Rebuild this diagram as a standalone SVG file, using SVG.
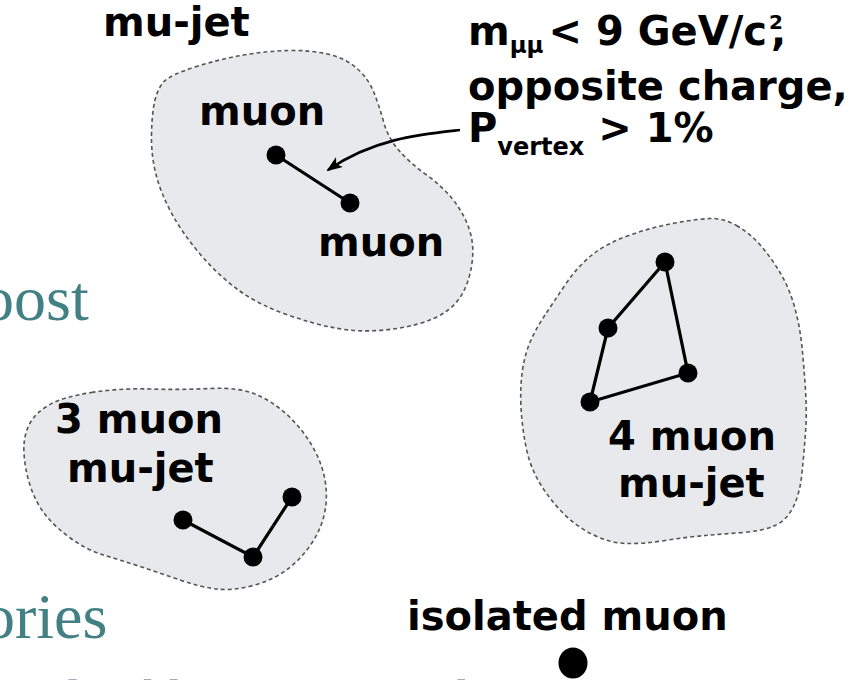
<svg xmlns="http://www.w3.org/2000/svg" width="862" height="680" viewBox="0 0 862 680">
  <defs>
    <style>
      .lbl { font-family: "DejaVu Sans", Verdana, sans-serif; font-weight: bold; font-size: 40px; fill: #000; }
      .sub { font-size: 23px; }
      .sup { font-size: 20px; }
      .sub2 { font-size: 24px; }
      .blob { fill: #e8e9ec; stroke: #555; stroke-width: 1.6; stroke-dasharray: 4 3; }
      .link { stroke: #000; stroke-width: 3.2; fill: none; stroke-linecap: round; }
      .mu { fill: #000; }
      .bg { font-family: "Liberation Serif", Georgia, serif; font-size: 64px; fill: #428084; }
      .bg2 { font-family: "Liberation Serif", Georgia, serif; font-size: 50px; fill: #52528a; }
    </style>
    <marker id="head" viewBox="0 0 16 12" refX="14" refY="6" markerWidth="16" markerHeight="12" markerUnits="userSpaceOnUse" orient="auto">
      <path d="M0,0 L16,6 L0,12 L4,6 Z" fill="#000"/>
    </marker>
  </defs>

  <rect width="862" height="680" fill="#fff"/>

  <!-- slide text behind the figure -->
  <g id="slide-text">
    <text class="bg" x="-18" y="320">oost</text>
    <text class="bg" x="-17" y="638">ories</text>
    <text class="bg2" x="55" y="715">durable in a narrow basin</text>
  </g>

  <!-- two-muon jet -->
  <g id="jet2">
    <path class="blob" d="M195,67 Q220,59 243.5,55 Q267,51 288.5,50.5 Q310,50 327.5,54 Q345,58 356.5,68 Q368,78 373.5,91.5 Q379,105 383.5,121.5 Q388,138 399,150.5 Q410,163 426,174.5 Q442,186 452.5,199 Q463,212 468.5,227 Q474,242 472.5,258.5 Q471,275 465,288.5 Q459,302 447.5,310.5 Q436,319 418,324 Q400,329 378.5,330.5 Q357,332 335,328 Q313,324 285,314 Q257,304 237,289 Q217,274 200,254 Q183,234 172,214 Q161,194 156,174.5 Q151,155 151.5,133.5 Q152,112 155,100 Q158,88 164,81.5 Q170,75 195,67 Z"/>
    <text class="lbl" x="103" y="36">mu-jet</text>
    <text class="lbl" x="199" y="125">muon</text>
    <text class="lbl" x="318" y="256">muon</text>
  </g>

  <!-- three-muon jet -->
  <g id="jet3">
    <path class="blob" d="M91.5,392.5 Q120,388 150,389 Q180,390 210,388.5 Q240,387 257.5,395 Q275,403 289,416.5 Q303,430 312.5,446.5 Q322,463 325,480 Q328,497 324.5,513.5 Q321,530 310.5,545 Q300,560 286.5,570 Q273,580 253,585.5 Q233,591 216.5,589 Q200,587 180,580 Q160,573 140,566.5 Q120,560 103.5,555 Q87,550 71,538.5 Q55,527 45.5,515 Q36,503 30.5,486.5 Q25,470 24,453.5 Q23,437 29,425 Q35,413 49,405 Q63,397 91.5,392.5 Z"/>
    <text class="lbl" x="55" y="433">3 muon</text>
    <text class="lbl" x="67" y="482">mu-jet</text>
  </g>

  <!-- four-muon jet -->
  <g id="jet4">
    <path class="blob" d="M736.5,225.5 Q750,233 761.5,246.5 Q773,260 781.5,275 Q790,290 795,308.5 Q800,327 802,347 Q804,367 805.5,390 Q807,413 805.5,433 Q804,453 802,473 Q800,493 793.5,506.5 Q787,520 775,525.5 Q763,531 743,532.5 Q723,534 705,535.5 Q687,537 665,540.5 Q643,544 626.5,543.5 Q610,543 593.5,535 Q577,527 563.5,513.5 Q550,500 540,483.5 Q530,467 526,447 Q522,427 521,407 Q520,387 522.5,370 Q525,353 531,340 Q537,327 545,315 Q553,303 565,285 Q577,267 592,255 Q607,243 630,235 Q653,227 675,223 Q697,219 710,218.5 Q723,218 736.5,225.5 Z"/>
    <text class="lbl" x="608" y="450">4 muon</text>
    <text class="lbl" x="618" y="497">mu-jet</text>
  </g>

  <!-- isolated muon -->
  <g id="isolated">
    <text class="lbl" x="407" y="630">isolated muon</text>
    <ellipse class="mu" cx="573" cy="663" rx="14.5" ry="15.5"/>
  </g>

  <!-- selection requirements -->
  <g id="cuts">
    <text class="lbl" x="468" y="45">m<tspan class="sub" dy="8">μμ</tspan><tspan dx="5" dy="-8">&lt; 9 GeV/c</tspan><tspan class="sup" dx="2" dy="-16">2</tspan><tspan dx="-12" dy="16">,</tspan></text>
    <text class="lbl" x="468" y="100">opposite charge,</text>
    <text class="lbl" x="468" y="142">P<tspan class="sub2" dy="13">vertex</tspan><tspan dy="-13"> &gt; 1%</tspan></text>
  </g>

  <!-- connectors -->
  <g id="connectors">
    <line class="link" x1="276" y1="155" x2="350" y2="203"/>
    <polyline class="link" points="183,520 253,557 292,497"/>
    <polygon class="link" points="665,262 608,328 590,402 688,373"/>
    <path d="M460,130 C424,134 374,138 328,170" fill="none" stroke="#000" stroke-width="2.6" marker-end="url(#head)"/>
  </g>

  <!-- muons -->
  <g id="muons">
    <circle class="mu" cx="276" cy="155" r="9.5"/>
    <circle class="mu" cx="350" cy="203" r="9.5"/>
    <circle class="mu" cx="183" cy="520" r="9.5"/>
    <circle class="mu" cx="253" cy="557" r="9.5"/>
    <circle class="mu" cx="292" cy="497" r="9.5"/>
    <circle class="mu" cx="665" cy="262" r="9.5"/>
    <circle class="mu" cx="608" cy="328" r="9.5"/>
    <circle class="mu" cx="590" cy="402" r="9.5"/>
    <circle class="mu" cx="688" cy="373" r="9.5"/>
  </g>
</svg>
